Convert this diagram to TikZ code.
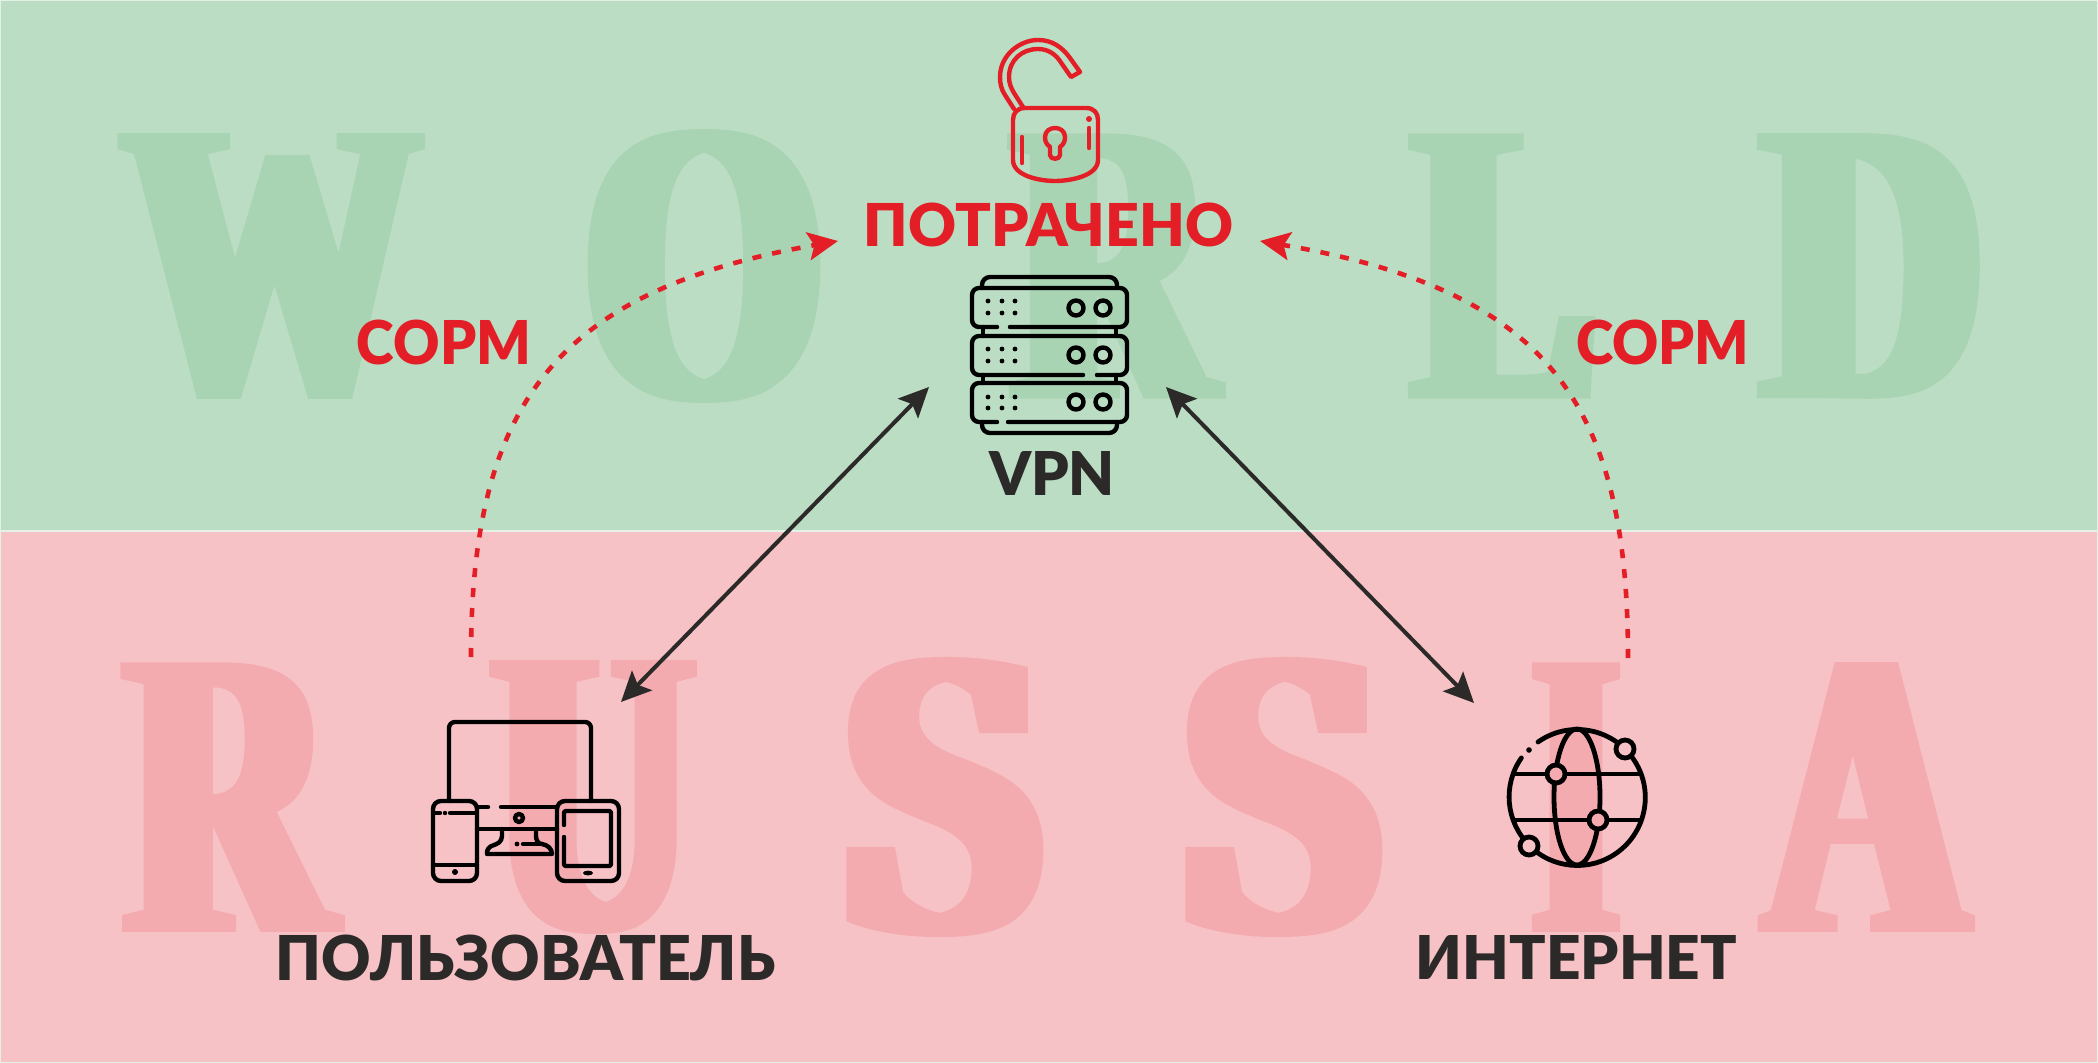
\documentclass[tikz,border=0pt]{standalone}
\usepackage{fontspec}
\usepackage{graphicx}
\usetikzlibrary{arrows.meta}
\setmainfont{Lato}[BoldFont={Lato Black}]
\newfontfamily\bigserif{Liberation Serif}[FakeStretch=0.09,BoldFeatures={FakeStretch=0.09,FakeBold=0.85}]
\newdimen\pxu \pxu=0.5pt
\newcommand{\fitbox}[3]{\resizebox*{#1\pxu}{#2\pxu}{#3}}
\definecolor{greenbg}{HTML}{BBDDC4}
\definecolor{greenlt}{HTML}{A9D4B3}
\definecolor{pinkbg}{HTML}{F7C2C5}
\definecolor{pinklt}{HTML}{F4ABB0}
\definecolor{redc}{HTML}{E31E26}
\definecolor{darkc}{HTML}{2B2A29}
\tikzset{
  bigletter/.style={inner sep=0pt,font=\bigserif\bfseries},
  label/.style={inner sep=0pt,font=\bfseries},
  anchorbox/.style={inner sep=0pt,outer sep=0pt},
  iconline/.style={line width=2.2pt,line cap=round,line join=round},
  blackarrow/.style={line width=2pt,darkc,{Stealth[length=15pt,width=14pt,inset=3pt]}-{Stealth[length=15pt,width=14pt,inset=3pt]}},
  redarrow/.style={line width=2.3pt,redc,dash pattern=on 4.5pt off 5.5pt,-{Stealth[length=15pt,width=14pt,inset=3pt]}}
}
\begin{document}
\begin{tikzpicture}[x=0.5pt,y=-0.5pt]
\useasboundingbox (0,0) rectangle (2098,1063);
% backgrounds
\fill[white!60!greenbg] (0,0) rectangle (2098,1063);
\fill[greenbg] (1,1) rectangle (2097,530);
\fill[pinkbg] (1,532) rectangle (2097,1062);
% big letters
\node[bigletter,text=greenlt] (w1) at (271.5,266) {\fitbox{286}{262}{W}};
\node[bigletter,text=greenlt] (w2) at (704,266) {\fitbox{232}{270}{O}};
\node[bigletter,text=greenlt] (w3) at (1113,266) {\fitbox{195}{262}{R}};
\node[bigletter,text=greenlt] (w4) at (1505,266) {\fitbox{176}{262}{L}};
\node[bigletter,text=greenlt] (w5) at (1873,266) {\fitbox{214}{262}{D}};
\node[bigletter,text=pinklt] (r1) at (229,797) {\fitbox{200}{266}{R}};
\node[bigletter,text=pinklt] (r2) at (593,797) {\fitbox{195}{270}{U}};
\node[bigletter,text=pinklt] (r3) at (943,797) {\fitbox{197}{276}{S}};
\node[bigletter,text=pinklt] (r4) at (1282,797) {\fitbox{197}{276}{S}};
\node[bigletter,text=pinklt] (r5) at (1576,797) {\fitbox{82}{266}{I}};
\node[bigletter,text=pinklt] (r6) at (1866,797) {\fitbox{196}{266}{A}};
% lock icon
\begin{scope}[iconline,redc]
\draw (1014,109) -- (1005,95) .. controls (1001,89) and (1000,83) .. (1000,77) .. controls (1000,55) and (1020,40) .. (1038,40) .. controls (1052,40) and (1062,47) .. (1070,58) -- (1080,72) -- (1071,77) -- (1062,64) .. controls (1056,54) and (1048,49) .. (1038,49) .. controls (1022,49) and (1009,60) .. (1009,77) .. controls (1009,83) and (1011,88) .. (1014,93) -- (1023,107);
\draw (1025,108) -- (1086,108) .. controls (1094,108) and (1098,113) .. (1098,120) -- (1098,160) .. controls (1098,176) and (1070,181) .. (1055,181) .. controls (1040,181) and (1013,176) .. (1013,160) -- (1013,120) .. controls (1013,113) and (1017,108) .. (1025,108) -- cycle;
\draw (1050,147) .. controls (1046,144) and (1045,141) .. (1045,137) .. controls (1045,131) and (1050,128) .. (1055,128) .. controls (1060,128) and (1065,131) .. (1065,137) .. controls (1065,141) and (1064,144) .. (1060,147) -- (1060,155) .. controls (1060,160) and (1050,160) .. (1050,155) -- cycle;
\draw (1022,137) -- (1022,163);
\draw (1089,128) -- (1089,148);
\fill (1089,119) circle[radius=3];
\end{scope}
% server icon
\begin{scope}[iconline,black]
\draw[rounded corners=4pt] (982,288) -- (982,277) -- (1117,277) -- (1117,288);
\draw[rounded corners=3.5pt] (1010,327) -- (1127,327) -- (1127,288) -- (972,288) -- (972,327) -- (997,327);
\draw[rounded corners=3.5pt] (1097,375) -- (1127,375) -- (1127,336) -- (972,336) -- (972,375) -- (1083,375);
\draw[rounded corners=3.5pt] (1008,422) -- (1127,422) -- (1127,383) -- (972,383) -- (972,422) -- (997,422);
\draw[rounded corners=4pt] (982,422) -- (982,433) -- (1117,433) -- (1117,422);
\draw (983,327) -- (983,336) (1116,327) -- (1116,336) (983,375) -- (983,383) (1116,375) -- (1116,383);
\foreach \dy in {301,313,349,361,397,408}{
  \foreach \dx in {988,1002,1015}{\fill (\dx,\dy) circle[radius=2.4];}}
\foreach \cy in {308,355,402}{
  \foreach \cx in {1076,1103}{\draw (\cx,\cy) circle[radius=7.5];}}
\end{scope}
% devices icon
\begin{scope}[iconline,black]
\draw[rounded corners=3pt] (449,801) -- (449,722) -- (591,722) -- (591,801);
\draw[rounded corners=4pt] (433,801) rectangle (477,881);
\draw (435,813) -- (440,813) (450,813) -- (475,813);
\fill (445,813) circle[radius=2.2];
\draw (433,865) -- (477,865);
\fill (455,872) circle[radius=3];
\draw[rounded corners=4pt] (557,801) rectangle (619,881);
\draw[rounded corners=1pt] (564,825) -- (564,811) -- (611,811) -- (611,866) -- (564,866) -- (564,837);
\fill (588,873) ellipse[x radius=5,y radius=2.4];
\draw (477,807) -- (488,807) (501,807) -- (557,807) (477,829) -- (557,829);
\draw (519,818) circle[radius=4];
\draw (502,829) -- (502,836) .. controls (502,842) and (497,844) .. (494,845) .. controls (489,846) and (486,851) .. (487,854) -- (552,854) .. controls (552,849) and (548,845) .. (542,844) .. controls (538,844) and (536,840) .. (536,836) -- (536,829);
\draw (523,844) -- (540,844);
\fill (517,844) circle[radius=2.4];
\end{scope}
% globe icon
\begin{scope}[iconline,black,line width=2.4pt]
\draw (1538,742) arc[start angle=234.7,end angle=495,radius=68];
\draw (1529,845) arc[start angle=135,end angle=215,radius=68];
\fill (1529,750) circle[radius=2.8];
\draw (1577,797) ellipse[x radius=23,y radius=68];
\draw (1515,774) -- (1640,774) (1515,820) -- (1640,820);
\draw[fill=pinklt] (1556,774) circle[radius=9];
\draw[fill=pinklt] (1598,820) circle[radius=9];
\draw[fill=pinkbg] (1625,749) circle[radius=9];
\draw[fill=pinkbg] (1529,846) circle[radius=9];
\end{scope}
% invisible connection boxes
\node[anchorbox,minimum width=118.5pt,minimum height=97pt] (vpnbox) at (1047.5,290) {};
\node[anchorbox,minimum width=94pt,minimum height=90pt] (userbox) at (527,792) {};
\node[anchorbox,minimum width=90pt,minimum height=90pt] (netbox) at (1564,793) {};
\node[anchorbox,minimum width=211pt,minimum height=20pt] (potbox) at (1049,221) {};
\coordinate (userdash) at (471,657);
\coordinate (netdash) at (1628,658);
% connectors
\draw[blackarrow] (vpnbox.south west) -- (userbox.north east);
\draw[blackarrow] (vpnbox.south east) -- (netbox.north west);
\draw[redarrow] (userdash) .. controls (471,400) and (560,290) .. (potbox.south west);
\draw[redarrow] (netdash) .. controls (1628,400) and (1545,290) .. (potbox.south east);
% labels
\node[label,text=redc] (pot) at (1048.5,225) {\fitbox{369}{44}{ПОТРАЧЕНО}};
\node[label,text=redc] (sorm1) at (444,342.5) {\fitbox{174}{45}{СОРМ}};
\node[label,text=redc] (sorm2) at (1662.5,342.5) {\fitbox{173}{45}{СОРМ}};
\node[label,text=darkc] (vpn) at (1052,473.5) {\fitbox{126}{44}{VPN}};
\node[label,text=darkc] (user) at (525.5,957.5) {\fitbox{499}{46}{ПОЛЬЗОВАТЕЛЬ}};
\node[label,text=darkc] (net) at (1576.5,957) {\fitbox{321}{44}{ИНТЕРНЕТ}};
\end{tikzpicture}
\end{document}
